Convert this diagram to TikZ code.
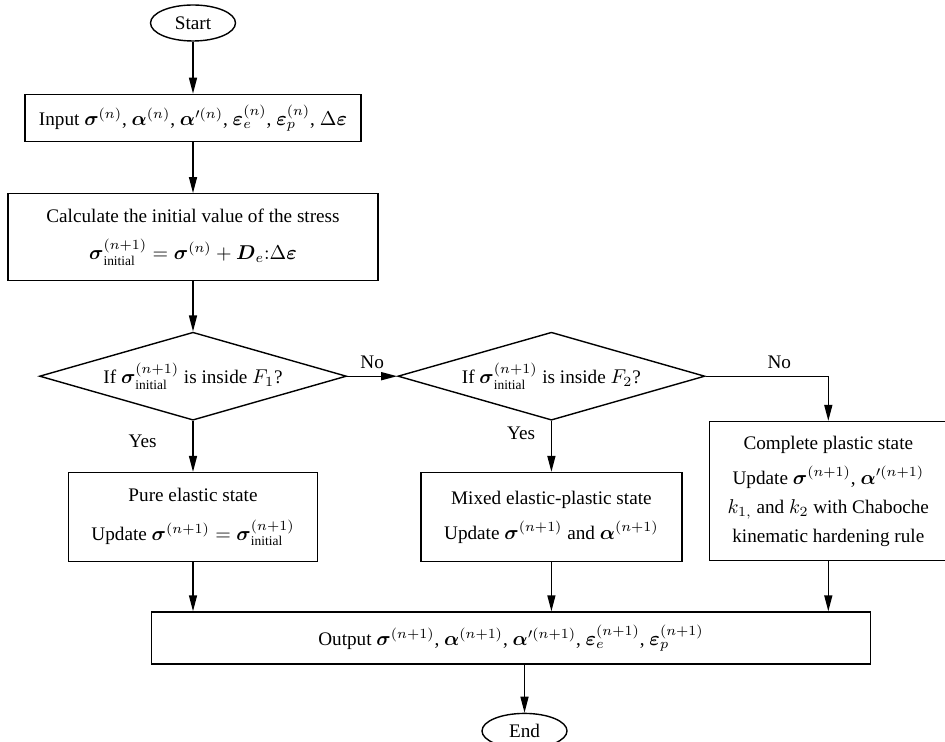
\documentclass[tikz,border=0pt]{standalone}
\usepackage{amsmath,amssymb}
\usepackage{fontspec}
\setmainfont{Liberation Serif}
\usepackage{tikz}
\usetikzlibrary{positioning,arrows.meta,shapes.geometric}

\newcommand{\bsym}[1]{\boldsymbol{#1}}

\begin{document}
\begin{tikzpicture}[
        every node/.style={font=\fontsize{9.6}{14.5}\selectfont},
        term/.style={draw, ellipse, line width=0.7pt, inner sep=0pt,
            minimum width=42.5pt, minimum height=18pt},
        proc/.style={draw, rectangle, line width=0.7pt, align=center, inner sep=2pt},
        cond/.style={draw, diamond, aspect=3.5, line width=0.7pt, inner sep=0pt,
            minimum width=153.5pt, minimum height=44pt},
        flow/.style={-{Triangle[length=8pt,width=4pt]}, line width=0.7pt}
    ]
        \useasboundingbox (0,0) rectangle (472.5pt,-371pt);
        \node[term] (start) at (96.5pt,-11.5pt) {Start};
        \node[proc, below=26pt of start, minimum width=168pt, minimum height=23.5pt] (input)
            {Input $\bsym{\sigma}^{(n)}$, $\bsym{\alpha}^{(n)}$, $\bsym{\alpha}'^{(n)}$,
             $\bsym{\varepsilon}_e^{(n)}$, $\bsym{\varepsilon}_p^{(n)}$, $\Delta\bsym{\varepsilon}$};
        \node[proc, below=25.5pt of input, minimum width=185pt, minimum height=43.5pt] (calc)
            {Calculate the initial value of the stress\\[4pt]
             $\bsym{\sigma}^{(n+1)}_{\text{initial}} = \bsym{\sigma}^{(n)} + \bsym{D}_e{:}\Delta\bsym{\varepsilon}$};
        \node[cond, below=25pt of calc] (if1)
            {If $\bsym{\sigma}^{(n+1)}_{\text{initial}}$ is inside $F_1$?};
        \node[cond, right=25pt of if1] (if2)
            {If $\bsym{\sigma}^{(n+1)}_{\text{initial}}$ is inside $F_2$?};
        \node[proc, below=25.5pt of if1, minimum width=124.5pt, minimum height=44.5pt] (pure)
            {Pure elastic state\\[5pt]
             Update $\bsym{\sigma}^{(n+1)} = \bsym{\sigma}^{(n+1)}_{\text{initial}}$};
        \node[proc, below=25.5pt of if2, minimum width=130.5pt, minimum height=44.5pt] (mixed)
            {Mixed elastic-plastic state\\[3pt]
             Update $\bsym{\sigma}^{(n+1)}$ and $\bsym{\alpha}^{(n+1)}$};
        \node[proc, anchor=north west, minimum width=119pt, minimum height=69.5pt] (plastic)
            at ([xshift=13pt]mixed.east |- if2.south)
            {Complete plastic state\\[3pt]
             Update $\bsym{\sigma}^{(n+1)}$, $\bsym{\alpha}'^{(n+1)}$\\
             $k_{1,}$ and $k_2$ with Chaboche\\
             kinematic hardening rule};
        \node[proc, below=24.5pt of pure.south, xshift=159pt, minimum width=359.5pt, minimum height=26pt] (out)
            {Output $\bsym{\sigma}^{(n+1)}$, $\bsym{\alpha}^{(n+1)}$, $\bsym{\alpha}'^{(n+1)}$,
             $\bsym{\varepsilon}_e^{(n+1)}$, $\bsym{\varepsilon}_p^{(n+1)}$};
        \node[term, below=24pt of out, xshift=6.75pt, minimum height=17.5pt] (end) {End};

        \draw[flow] (start) -- (input);
        \draw[flow] (input) -- (calc);
        \draw[flow] (calc) -- (if1);
        \draw[flow] (if1) -- node[above] {No} (if2);
        \draw[flow] (if2) -| node[above, pos=0.3] {No} (plastic);
        \draw[flow] (if1) -- node[left=14.5pt, pos=0.4] {Yes} (pure);
        \draw[flow] (if2) -- node[left=4.5pt, pos=0.25] {Yes} (mixed);
        \draw[flow] (pure) -- (pure |- out.north);
        \draw[flow] (mixed) -- (mixed |- out.north);
        \draw[flow] (plastic) -- (plastic |- out.north);
        \draw[flow] (out.south -| end) -- (end);
    \end{tikzpicture}
\end{document}
